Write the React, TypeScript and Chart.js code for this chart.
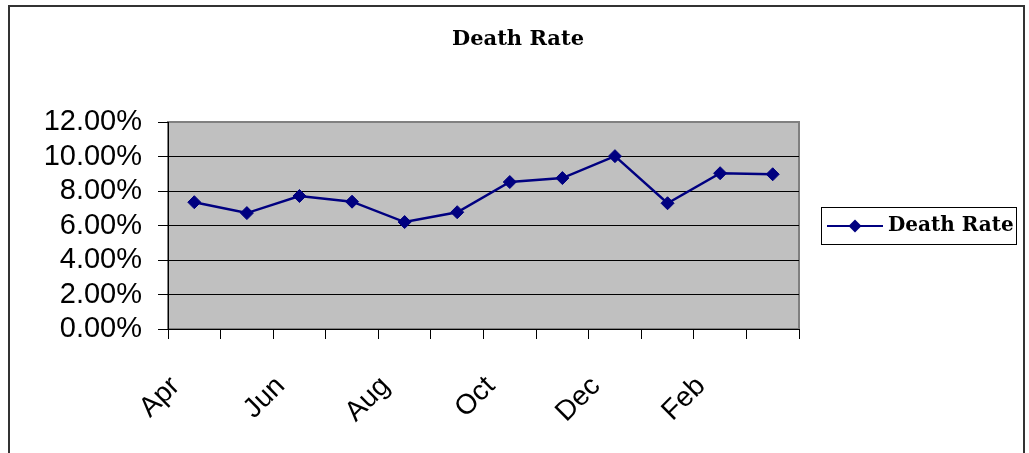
import React, { useEffect, useRef } from 'react';
import { Chart, registerables } from 'chart.js';

Chart.register(...registerables);

const months = ['Apr', 'May', 'Jun', 'Jul', 'Aug', 'Sep', 'Oct', 'Nov', 'Dec', 'Jan', 'Feb', 'Mar'];
const deathRate = [7.35, 6.72, 7.71, 7.38, 6.2, 6.77, 8.52, 8.75, 10.02, 7.29, 9.03, 8.97];
const shownMonthLabels = ['Apr', 'Jun', 'Aug', 'Oct', 'Dec', 'Feb'];
const chartTitle = 'Death Rate';
const seriesName = 'Death Rate';
const yMin = 0;
const yMax = 12;
const yStep = 2;

const NAVY = '#000080';

export default function App() {
  const ref = useRef<HTMLCanvasElement>(null);

  useEffect(() => {
    document.body.style.margin = '0';
    const canvas = ref.current;
    if (!canvas) return;

    const framePlugin = {
      id: 'frame',
      beforeDraw(chart: any) {
        const { ctx, chartArea } = chart;
        ctx.save();
        ctx.fillStyle = '#ffffff';
        ctx.fillRect(0, 0, chart.width, chart.height);
        // outer chart border
        ctx.strokeStyle = '#333333';
        ctx.lineWidth = 2;
        ctx.strokeRect(9, 6, 1015, 520);
        // plot area
        ctx.fillStyle = '#C0C0C0';
        ctx.fillRect(chartArea.left, chartArea.top, chartArea.right - chartArea.left, chartArea.bottom - chartArea.top);
        ctx.strokeStyle = '#808080';
        ctx.lineWidth = 2;
        ctx.strokeRect(chartArea.left, chartArea.top, chartArea.right - chartArea.left, chartArea.bottom - chartArea.top);
        // title
        ctx.fillStyle = '#000000';
        ctx.font = 'bold 21px "DejaVu Serif"';
        ctx.textAlign = 'center';
        ctx.textBaseline = 'middle';
        ctx.fillText(chartTitle, 518, 40);
        ctx.restore();
      },
      afterDraw(chart: any) {
        const { ctx } = chart;
        const ds = chart.data.datasets[0];
        ctx.save();
        // legend box
        ctx.strokeStyle = '#000000';
        ctx.lineWidth = 1;
        ctx.strokeRect(821.5, 207.5, 195, 37);
        const ly = 226;
        ctx.strokeStyle = ds.borderColor;
        ctx.lineWidth = 2;
        ctx.beginPath();
        ctx.moveTo(827, ly);
        ctx.lineTo(883, ly);
        ctx.stroke();
        const r = 6.5;
        ctx.fillStyle = ds.pointBackgroundColor;
        ctx.beginPath();
        ctx.moveTo(855 - r, ly);
        ctx.lineTo(855, ly - r);
        ctx.lineTo(855 + r, ly);
        ctx.lineTo(855, ly + r);
        ctx.closePath();
        ctx.fill();
        ctx.fillStyle = '#000000';
        ctx.font = 'bold 20px "DejaVu Serif"';
        ctx.textAlign = 'left';
        ctx.textBaseline = 'middle';
        ctx.fillText(ds.label, 888, ly);
        ctx.restore();
      },
    };

    const chart = new Chart(canvas, {
      type: 'line',
      data: {
        labels: months,
        datasets: [
          {
            label: seriesName,
            data: deathRate,
            borderColor: NAVY,
            backgroundColor: NAVY,
            pointBackgroundColor: NAVY,
            pointBorderColor: NAVY,
            borderWidth: 2.5,
            pointStyle: 'rectRot',
            pointRadius: 6.5,
            pointBorderWidth: 1,
            tension: 0,
            fill: false,
          },
        ],
      },
      options: {
        responsive: false,
        animation: false,
        layout: { padding: { top: 122, right: 230, left: 0, bottom: 0 } },
        plugins: {
          legend: { display: false },
          title: { display: false },
          tooltip: { enabled: false },
        },
        scales: {
          x: {
            type: 'category',
            offset: true,
            grid: {
              offset: true,
              drawOnChartArea: false,
              tickLength: 10,
              color: '#000000',
              lineWidth: 1,
            },
            border: { color: '#000000', width: 1 },
            ticks: {
              autoSkip: false,
              maxRotation: 45,
              minRotation: 45,
              padding: 31,
              labelOffset: -19,
              color: '#000000',
              font: { family: '"Liberation Sans", Arial, sans-serif', size: 28 },
              callback: (_v: any, idx: number) =>
                shownMonthLabels.includes(months[idx]) ? months[idx] : '',
            },
            afterFit: (s: any) => {
              s.height = 124;
            },
          },
          y: {
            min: yMin,
            max: yMax,
            grid: {
              tickLength: 10,
              color: (c: any) => (c.tick && c.tick.value === yMax ? 'rgba(0,0,0,0)' : '#000000'),
              tickColor: '#000000',
              lineWidth: 1,
            },
            border: { color: '#000000', width: 1 },
            ticks: {
              stepSize: yStep,
              autoSkip: false,
              padding: 16,
              color: '#000000',
              font: { family: '"Liberation Sans", Arial, sans-serif', size: 29 },
              callback: (v: any) => Number(v).toFixed(2) + '%',
            },
            afterFit: (s: any) => {
              s.width = 168;
            },
          },
        },
      },
      plugins: [framePlugin],
    } as any);

    return () => chart.destroy();
  }, []);

  return (
    <div style={{ width: 1029, height: 453 }}>
      <canvas ref={ref} width={1029} height={453} style={{ display: 'block', width: 1029, height: 453 }} />
    </div>
  );
}
